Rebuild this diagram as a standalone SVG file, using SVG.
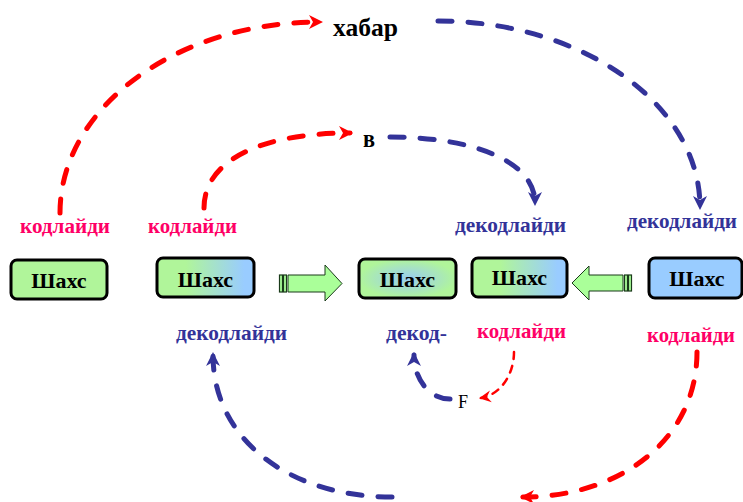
<svg xmlns="http://www.w3.org/2000/svg" width="743" height="502" viewBox="0 0 743 502">
<defs>
<style>
.box{stroke:#000;stroke-width:3}
.bt{font-family:"Liberation Serif","Times New Roman",serif;font-weight:bold;font-size:22px;fill:#000;text-anchor:middle}
.lbl{font-family:"Liberation Serif","Times New Roman",serif;font-weight:bold;font-size:21px}
.pk{fill:#ff0066}
.bl{fill:#333399}
.blk{font-family:"Liberation Serif","Times New Roman",serif;font-weight:bold;font-size:26px;fill:#000}
.dr{fill:none;stroke:#ff0000;stroke-width:5;stroke-linecap:round;stroke-dasharray:14 16}
.db{fill:none;stroke:#333399;stroke-width:5;stroke-linecap:round;stroke-dasharray:14 16}
.dr2{fill:none;stroke:#ff0000;stroke-width:2.5;stroke-linecap:round;stroke-dasharray:7 7}
.barrow{fill:#aaff99;stroke:#1a3a1a;stroke-width:1}
.bar{fill:#aaff99;stroke:#1a3a1a;stroke-width:1.2}
</style>
<linearGradient id="gb" x1="0" y1="0" x2="1" y2="0">
<stop offset="0" stop-color="#b0f59a"/>
<stop offset="0.3" stop-color="#b0f59a"/>
<stop offset="0.9" stop-color="#99ccff"/>
<stop offset="1" stop-color="#99ccff"/>
</linearGradient>
<radialGradient id="rg" cx="0.5" cy="0.5" r="0.5">
<stop offset="0" stop-color="#99cdf0"/>
<stop offset="0.55" stop-color="#a6e2c4"/>
<stop offset="1" stop-color="#b0f59a"/>
</radialGradient>
<marker id="mr" viewBox="-14 -9 18 18" refX="0" refY="0" markerWidth="18" markerHeight="18" markerUnits="userSpaceOnUse" orient="auto">
<path d="M3,0 L-11,-7 L-7,0 L-11,7 Z" fill="#ff0000"/>
</marker>
<marker id="mb" viewBox="-14 -9 18 18" refX="0" refY="0" markerWidth="18" markerHeight="18" markerUnits="userSpaceOnUse" orient="auto">
<path d="M3,0 L-11,-7 L-7,0 L-11,7 Z" fill="#333399"/>
</marker>
<marker id="mr2" viewBox="-14 -9 18 18" refX="0" refY="0" markerWidth="18" markerHeight="18" markerUnits="userSpaceOnUse" orient="auto">
<path d="M2,0 L-10,-6 L-6,0 L-10,6 Z" fill="#ff0000"/>
</marker>
</defs>
<rect width="743" height="502" fill="#fff"/>

<g id="connectors">
<path class="dr" d="M60,213 C60,108 176,22 320,22" marker-end="url(#mr)"/>
<path class="db" d="M438,21 C583,21 700,105 700,207" marker-end="url(#mb)"/>
<path class="dr" d="M204,208 C204,160 262,133 350,133" marker-end="url(#mr)"/>
<path class="db" d="M390,137 C470,137 535,160 535,203" marker-end="url(#mb)"/>
<path class="dr" d="M697,352 C697,440 620,497 523,497" marker-end="url(#mr)"/>
<path class="db" d="M392,497 C290,497 213,440 213,355" marker-end="url(#mb)"/>
<path class="db" d="M450,399 C430,399 414,380 414,355" marker-end="url(#mb)"/>
<path class="dr2" d="M514,352 C514,375 500,395 481,398" marker-end="url(#mr2)"/>
<g id="blockarrow1">
<rect class="bar" x="279.5" y="275" width="3" height="17"/>
<rect class="bar" x="283.5" y="275" width="3" height="17"/>
<polygon class="barrow" points="288,275 325,275 325,265 342,283.5 325,301 325,292 288,292"/>
</g>
<g id="blockarrow2">
<rect class="bar" x="628.5" y="275" width="3" height="16"/>
<rect class="bar" x="624.5" y="275" width="3" height="16"/>
<polygon class="barrow" points="623,275 589,275 589,266 572,283 589,300 589,291 623,291"/>
</g>
</g>

<g id="node1">
<rect class="box" x="11" y="260" width="96" height="39" rx="6" fill="#b0f59a"/>
<text class="bt" x="59" y="288">Шахс</text>
</g>
<g id="node2">
<rect class="box" x="157" y="258" width="97" height="39" rx="6" fill="url(#gb)"/>
<text class="bt" x="205.5" y="287">Шахс</text>
</g>
<g id="node3">
<rect class="box" x="359" y="259" width="97" height="39" rx="6" fill="url(#rg)"/>
<text class="bt" x="407.5" y="287">Шахс</text>
</g>
<g id="node4">
<rect class="box" x="472" y="258" width="95" height="39" rx="6" fill="url(#gb)"/>
<text class="bt" x="519.5" y="285">Шахс</text>
</g>
<g id="node5">
<rect class="box" x="649" y="258" width="93" height="40" rx="6" fill="#99ccff"/>
<text class="bt" x="697" y="286">Шахс</text>
</g>

<g id="labels">
<text class="lbl pk" x="20" y="233" textLength="90" lengthAdjust="spacingAndGlyphs">кодлайди</text>
<text class="lbl pk" x="148" y="233" textLength="89" lengthAdjust="spacingAndGlyphs">кодлайди</text>
<text class="lbl bl" x="176" y="340" textLength="111" lengthAdjust="spacingAndGlyphs">декодлайди</text>
<text class="lbl bl" x="455" y="232" textLength="111" lengthAdjust="spacingAndGlyphs">декодлайди</text>
<text class="lbl bl" x="627" y="228" textLength="110" lengthAdjust="spacingAndGlyphs">декодлайди</text>
<text class="lbl bl" x="386" y="340" textLength="61" lengthAdjust="spacingAndGlyphs">декод-</text>
<text class="lbl pk" x="477" y="338" textLength="89" lengthAdjust="spacingAndGlyphs">кодлайди</text>
<text class="lbl pk" x="647" y="342" textLength="88" lengthAdjust="spacingAndGlyphs">кодлайди</text>
<text class="blk" x="333" y="36" textLength="65" lengthAdjust="spacingAndGlyphs">хабар</text>
<text class="blk" x="363" y="147" textLength="12" lengthAdjust="spacingAndGlyphs">в</text>
<text x="458" y="408" font-family="Liberation Serif, Times New Roman, serif" font-size="18" fill="#000">F</text>
</g>
</svg>
